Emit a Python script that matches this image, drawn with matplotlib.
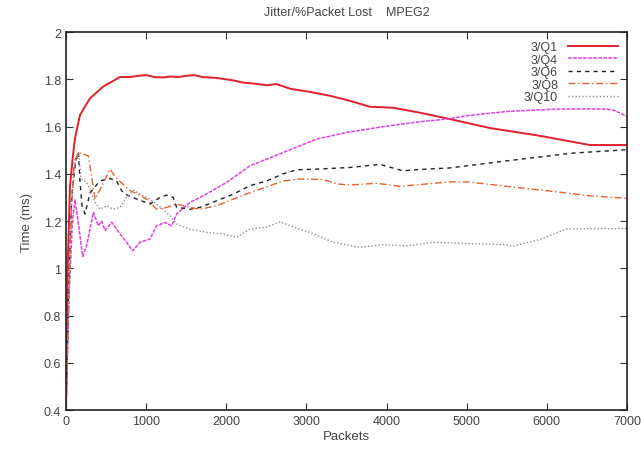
import matplotlib
matplotlib.use("Agg")
import matplotlib.pyplot as plt

plt.rcParams['font.family'] = ['Liberation Sans', 'DejaVu Sans']

# dados
q1_x = [0, 20, 50, 87, 112, 175, 300, 466, 674, 800, 900, 1000, 1100, 1200, 1300, 1400, 1500, 1600,
        1700, 1800, 1900, 2000, 2100, 2200, 2400, 2500, 2629, 2800, 3045, 3300, 3544, 3793, 4080,
        4400, 4750, 5290, 5914, 6538, 7000]
q1_y = [0.40, 1.00, 1.35, 1.48, 1.55, 1.65, 1.72, 1.77, 1.81, 1.81, 1.815, 1.818, 1.81, 1.808,
        1.812, 1.81, 1.815, 1.818, 1.81, 1.808, 1.805, 1.80, 1.795, 1.787, 1.78, 1.775, 1.78, 1.76,
        1.747, 1.73, 1.709, 1.684, 1.68, 1.66, 1.635, 1.594, 1.561, 1.522, 1.522]

q4_x = [0, 40, 80, 112, 150, 208, 260, 341, 403, 445, 487, 570, 674, 757, 832, 923, 1048, 1131,
        1235, 1318, 1381, 1547, 1713, 2005, 2296, 2504, 2920, 3128, 3500, 3960, 4400, 4750, 5000,
        5498, 6122, 6500, 6746, 6850, 7000]
q4_y = [0.40, 0.90, 1.20, 1.29, 1.20, 1.05, 1.10, 1.237, 1.18, 1.20, 1.16, 1.195, 1.145, 1.11,
        1.074, 1.11, 1.124, 1.18, 1.194, 1.18, 1.23, 1.279, 1.307, 1.364, 1.434, 1.462, 1.519,
        1.547, 1.575, 1.60, 1.62, 1.632, 1.646, 1.664, 1.674, 1.675, 1.674, 1.668, 1.643]

q6_x = [0, 30, 70, 120, 154, 175, 200, 237, 300, 424, 549, 632, 695, 760, 882, 1048, 1173, 1256,
        1339, 1381, 1547, 1672, 1880, 2088, 2296, 2504, 2712, 2879, 3128, 3544, 3918, 4205, 4500,
        4791, 5498, 6330, 7000]
q6_y = [0.40, 0.90, 1.30, 1.45, 1.49, 1.364, 1.265, 1.23, 1.32, 1.37, 1.38, 1.37, 1.328, 1.31,
        1.293, 1.272, 1.30, 1.31, 1.30, 1.258, 1.25, 1.258, 1.286, 1.314, 1.35, 1.37, 1.40, 1.417,
        1.42, 1.427, 1.44, 1.413, 1.42, 1.425, 1.455, 1.488, 1.502]

q8_x = [0, 30, 60, 100, 154, 279, 362, 466, 549, 632, 798, 1006, 1131, 1256, 1381, 1547, 1672,
        1880, 2088, 2296, 2712, 2920, 3211, 3378, 3544, 3876, 4168, 4791, 5040, 5498, 6122, 6538,
        7000]
q8_y = [0.40, 0.80, 1.20, 1.45, 1.49, 1.476, 1.293, 1.36, 1.42, 1.38, 1.33, 1.293, 1.25, 1.258,
        1.272, 1.258, 1.25, 1.265, 1.293, 1.32, 1.37, 1.378, 1.376, 1.357, 1.353, 1.36, 1.347,
        1.366, 1.365, 1.347, 1.324, 1.307, 1.296]

q10_x = [0, 30, 70, 120, 154, 190, 258, 300, 362, 424, 507, 590, 674, 757, 840, 1048, 1214, 1298,
         1381, 1547, 1755, 1963, 2129, 2296, 2504, 2670, 2920, 3045, 3336, 3669, 3960, 4251, 4583,
         5000, 5498, 5581, 5914, 6247, 6496, 7000]
q10_y = [0.40, 0.90, 1.30, 1.45, 1.49, 1.378, 1.364, 1.33, 1.279, 1.25, 1.265, 1.25, 1.258, 1.30,
         1.33, 1.293, 1.25, 1.222, 1.187, 1.166, 1.152, 1.145, 1.131, 1.166, 1.175, 1.197, 1.165,
         1.152, 1.11, 1.089, 1.10, 1.095, 1.11, 1.105, 1.10, 1.094, 1.122, 1.166, 1.168, 1.168]

x_ticks = [0, 1000, 2000, 3000, 4000, 5000, 6000, 7000]
y_ticks = [0.4, 0.6, 0.8, 1.0, 1.2, 1.4, 1.6, 1.8, 2.0]
y_labels = ["0.4", "0.6", "0.8", "1", "1.2", "1.4", "1.6", "1.8", "2"]

fig = plt.figure(figsize=(6.41, 4.52), dpi=100)
ax = fig.add_axes([0.103, 0.0907, 0.875, 0.836])

ax.plot(q1_x, q1_y, color="#e0202a", lw=1.4, label="3/Q1")
ax.plot(q4_x, q4_y, color="#e040e0", lw=1.1, ls=(0, (2.5, 0.8)), label="3/Q4")
ax.plot(q6_x, q6_y, color="#202020", lw=1.0, ls=(0, (3, 3)), label="3/Q6")
ax.plot(q8_x, q8_y, color="#e8602a", lw=1.0, ls=(0, (5, 2, 1, 2)), label="3/Q8")
ax.plot(q10_x, q10_y, color="#909090", lw=1.0, ls=(0, (1, 1.5)), label="3/Q10")

ax.set_xlim(0, 7000)
ax.set_ylim(0.4, 2.0)
ax.set_xticks(x_ticks)
ax.set_yticks(y_ticks)
ax.set_yticklabels(y_labels)
ax.tick_params(direction="in", top=True, right=True, length=5, labelsize=9,
               colors="#333333", labelcolor="#444444")
for s in ax.spines.values():
    s.set_linewidth(1.2)
    s.set_color("#222222")

ax.set_title("Jitter/%Packet Lost    MPEG2", fontsize=9, color="#444444", pad=12)
ax.set_xlabel("Packets", fontsize=9.5, color="#444444", labelpad=2)
ax.set_ylabel("Time (ms)", fontsize=9.5, color="#444444", labelpad=8)

leg = ax.legend(loc="upper right", frameon=False, markerfirst=False, fontsize=9,
                handlelength=4.0, labelspacing=0.05, borderaxespad=0.3, handletextpad=0.8)
for t in leg.get_texts():
    t.set_color("#444444")

fig.savefig("out.png", dpi=100)
